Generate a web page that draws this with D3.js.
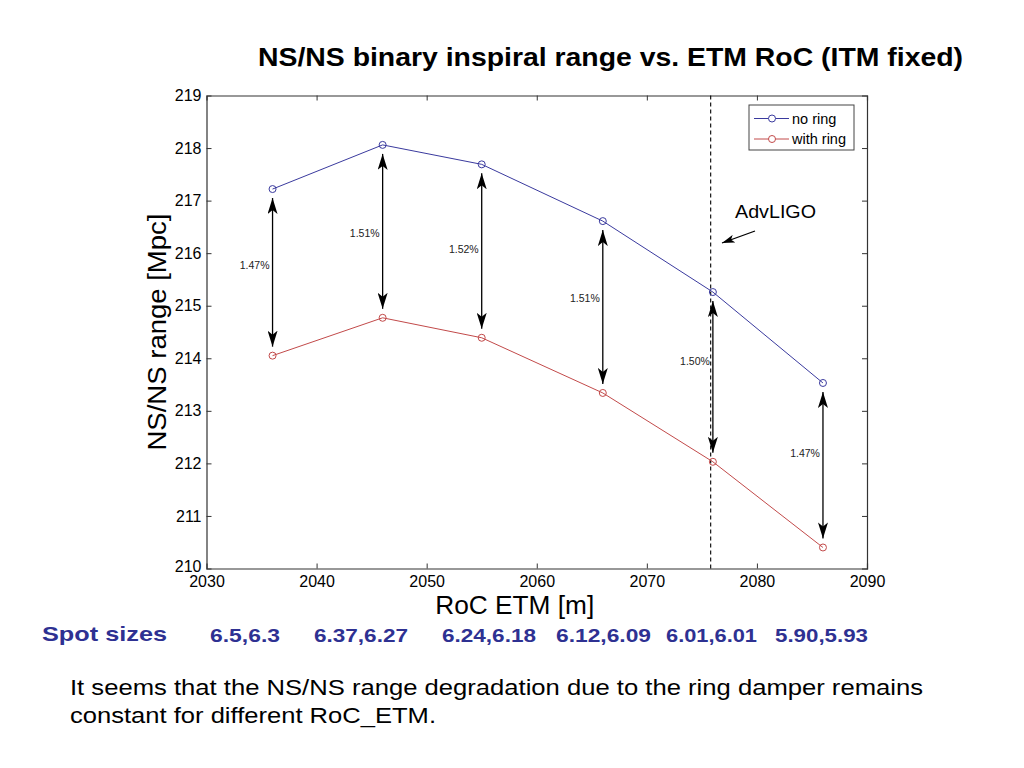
<!DOCTYPE html>
<html>
<head>
<meta charset="utf-8">
<script src="https://cdn.jsdelivr.net/npm/d3@7/dist/d3.min.js"></script>
<style>
  html, body { margin: 0; padding: 0; background: #fff; }
  svg { display: block; font-family: "Liberation Sans", Arial, sans-serif; }
</style>
</head>
<body>
<svg id="chart" width="1024" height="768"></svg>
<script>
// ---- data ----
const rocETM   = [2036, 2046, 2055, 2066, 2076, 2086];
const noRing   = [217.22, 218.06, 217.69, 216.61, 215.26, 213.53];
const withRing = [214.05, 214.77, 214.39, 213.34, 212.03, 210.40];
const pctLabels = ["1.47%", "1.51%", "1.52%", "1.51%", "1.50%", "1.47%"];
const pctLabelLevel = [215.76, 216.37, 216.08, 215.15, 213.95, 212.20];
const xTicks = [2030, 2040, 2050, 2060, 2070, 2080, 2090];
const yTicks = [210, 211, 212, 213, 214, 215, 216, 217, 218, 219];
const advLigoRoC = 2075.8;
const spotSizes = ["6.5,6.3", "6.37,6.27", "6.24,6.18", "6.12,6.09", "6.01,6.01", "5.90,5.93"];
const seriesNames = ["no ring", "with ring"];

const blue = "#3a3a9e", red = "#c24a4a";

const svg = d3.select("#chart");
const L = 206.5, R = 867, T = 95.5, B = 568.5;
const x = d3.scaleLinear().domain([2030, 2090]).range([L, R]);
const y = d3.scaleLinear().domain([210, 219]).range([B, T]);

// title
svg.append("text").attr("x", 258).attr("y", 66)
  .attr("font-size", 25).attr("font-weight", "bold").attr("fill", "#000")
  .attr("textLength", 705).attr("lengthAdjust", "spacingAndGlyphs")
  .text("NS/NS binary inspiral range vs. ETM RoC (ITM fixed)");

// axes (box with inward ticks)
const axisCol = "#333";
const gB = svg.append("g").attr("transform", `translate(0,${B})`)
  .call(d3.axisBottom(x).tickValues(xTicks).tickSize(-5).tickPadding(7).tickFormat(d3.format("d")));
const gT = svg.append("g").attr("transform", `translate(0,${T})`)
  .call(d3.axisTop(x).tickValues(xTicks).tickSize(-5).tickFormat(""));
const gL = svg.append("g").attr("transform", `translate(${L},0)`)
  .call(d3.axisLeft(y).tickValues(yTicks).tickSize(-5).tickPadding(5).tickFormat(d3.format("d")));
const gR = svg.append("g").attr("transform", `translate(${R},0)`)
  .call(d3.axisRight(y).tickValues(yTicks).tickSize(-5).tickFormat(""));
[gB, gT, gL, gR].forEach(g => {
  g.select(".domain").attr("stroke", axisCol).attr("stroke-width", 1.2);
  g.selectAll(".tick line").attr("stroke", axisCol);
  g.selectAll(".tick text").attr("font-size", 16).attr("fill", "#000")
    .attr("font-family", "Liberation Sans, Arial, sans-serif");
});
gL.selectAll(".tick text").filter(d => d === 210).attr("dy", "0.2em");
// hide ticks at box corners (they sit on the opposite axis)
[gB, gT].forEach(g => g.selectAll(".tick line").filter(d => d === 2030 || d === 2090).remove());
[gL, gR].forEach(g => g.selectAll(".tick line").filter(d => d === 210 || d === 219).remove());

// axis labels
svg.append("text").attr("x", x(2058)).attr("y", 614).attr("text-anchor", "middle")
  .attr("font-size", 26).attr("textLength", 159).attr("lengthAdjust", "spacingAndGlyphs")
  .text("RoC ETM [m]");
svg.append("text").attr("transform", `translate(166,${y(214.5)}) rotate(-90)`)
  .attr("text-anchor", "middle").attr("font-size", 26)
  .attr("textLength", 237).attr("lengthAdjust", "spacingAndGlyphs")
  .text("NS/NS range [Mpc]");

// AdvLIGO dashed line
svg.append("line").attr("x1", x(advLigoRoC)).attr("x2", x(advLigoRoC))
  .attr("y1", T).attr("y2", B).attr("stroke", "#000").attr("stroke-width", 1.1)
  .attr("stroke-dasharray", "4,3");

// arrow markers
const defs = svg.append("defs");
defs.append("marker").attr("id", "ah").attr("viewBox", "0 0 16 10")
  .attr("refX", 16).attr("refY", 5).attr("markerWidth", 16).attr("markerHeight", 10)
  .attr("markerUnits", "userSpaceOnUse").attr("orient", "auto-start-reverse")
  .append("path").attr("d", "M0,0 L16,5 L0,10 L4,5 Z").attr("fill", "#000");

// lines
const line = d3.line().x((d, i) => x(rocETM[i])).y(d => y(d));
svg.append("path").datum(noRing).attr("d", line).attr("fill", "none").attr("stroke", blue).attr("stroke-width", 1);
svg.append("path").datum(withRing).attr("d", line).attr("fill", "none").attr("stroke", red).attr("stroke-width", 1);

// double arrows
const gap = 9;
svg.append("g").selectAll("line").data(rocETM).join("line")
  .attr("x1", d => x(d)).attr("x2", d => x(d))
  .attr("y1", (d, i) => y(noRing[i]) + gap).attr("y2", (d, i) => y(withRing[i]) - gap)
  .attr("stroke", "#000").attr("stroke-width", 1.3)
  .attr("marker-start", "url(#ah)").attr("marker-end", "url(#ah)");

// pct labels
svg.append("g").selectAll("text").data(pctLabels).join("text")
  .attr("x", (d, i) => x(rocETM[i]) - 3).attr("y", (d, i) => y(pctLabelLevel[i]))
  .attr("dy", "0.35em").attr("text-anchor", "end").attr("font-size", 10.5).attr("fill", "#222")
  .text(d => d);

// markers
svg.append("g").selectAll("circle").data(noRing).join("circle")
  .attr("cx", (d, i) => x(rocETM[i])).attr("cy", d => y(d)).attr("r", 3.5)
  .attr("fill", "none").attr("stroke", blue).attr("stroke-width", 1);
svg.append("g").selectAll("circle").data(withRing).join("circle")
  .attr("cx", (d, i) => x(rocETM[i])).attr("cy", d => y(d)).attr("r", 3.5)
  .attr("fill", "none").attr("stroke", red).attr("stroke-width", 1);

// legend
const lg = svg.append("g");
lg.append("rect").attr("x", 749).attr("y", 105).attr("width", 105).attr("height", 45)
  .attr("fill", "#fff").attr("stroke", "#444").attr("stroke-width", 1);
[blue, red].forEach((c, i) => {
  const yy = 118.5 + i * 20.5;
  lg.append("line").attr("x1", 754).attr("x2", 789).attr("y1", yy).attr("y2", yy).attr("stroke", c);
  lg.append("circle").attr("cx", 772).attr("cy", yy).attr("r", 3.5).attr("fill", "#fff").attr("stroke", c);
  lg.append("text").attr("x", 792).attr("y", yy).attr("dy", "0.35em").attr("font-size", 14.5)
    .text(seriesNames[i]);
});

// AdvLIGO annotation
svg.append("text").attr("x", 735).attr("y", 218).attr("font-size", 19)
  .attr("textLength", 81).attr("lengthAdjust", "spacingAndGlyphs").text("AdvLIGO");
defs.append("marker").attr("id", "ah2").attr("viewBox", "0 0 16 10")
  .attr("refX", 16).attr("refY", 5).attr("markerWidth", 13).attr("markerHeight", 8)
  .attr("markerUnits", "userSpaceOnUse").attr("orient", "auto")
  .append("path").attr("d", "M0,0 L16,5 L0,10 L4,5 Z").attr("fill", "#000");
svg.append("line").attr("x1", 755).attr("y1", 231).attr("x2", 722).attr("y2", 243)
  .attr("stroke", "#000").attr("stroke-width", 1.3).attr("marker-end", "url(#ah2)");

// spot sizes
const spotCol = "#2e3192";
svg.append("text").attr("x", 42).attr("y", 641).attr("font-size", 21).attr("font-weight", "bold")
  .attr("fill", spotCol).attr("textLength", 125).attr("lengthAdjust", "spacingAndGlyphs").text("Spot sizes");
const spotX = [210, 314, 442, 556, 666, 775];
const spotW = [70, 94, 94, 95, 91, 93];
svg.append("g").selectAll("text").data(spotSizes).join("text")
  .attr("x", (d, i) => spotX[i]).attr("y", 642).attr("font-size", 19).attr("font-weight", "bold")
  .attr("fill", spotCol).attr("textLength", (d, i) => spotW[i]).attr("lengthAdjust", "spacingAndGlyphs")
  .text(d => d);

// comment paragraph
svg.append("text").attr("x", 70).attr("y", 695).attr("font-size", 22)
  .attr("textLength", 853).attr("lengthAdjust", "spacingAndGlyphs")
  .text("It seems that the NS/NS range degradation due to the ring damper remains");
svg.append("text").attr("x", 70).attr("y", 723).attr("font-size", 22)
  .attr("textLength", 366).attr("lengthAdjust", "spacingAndGlyphs")
  .text("constant for different RoC_ETM.");
</script>
</body>
</html>
